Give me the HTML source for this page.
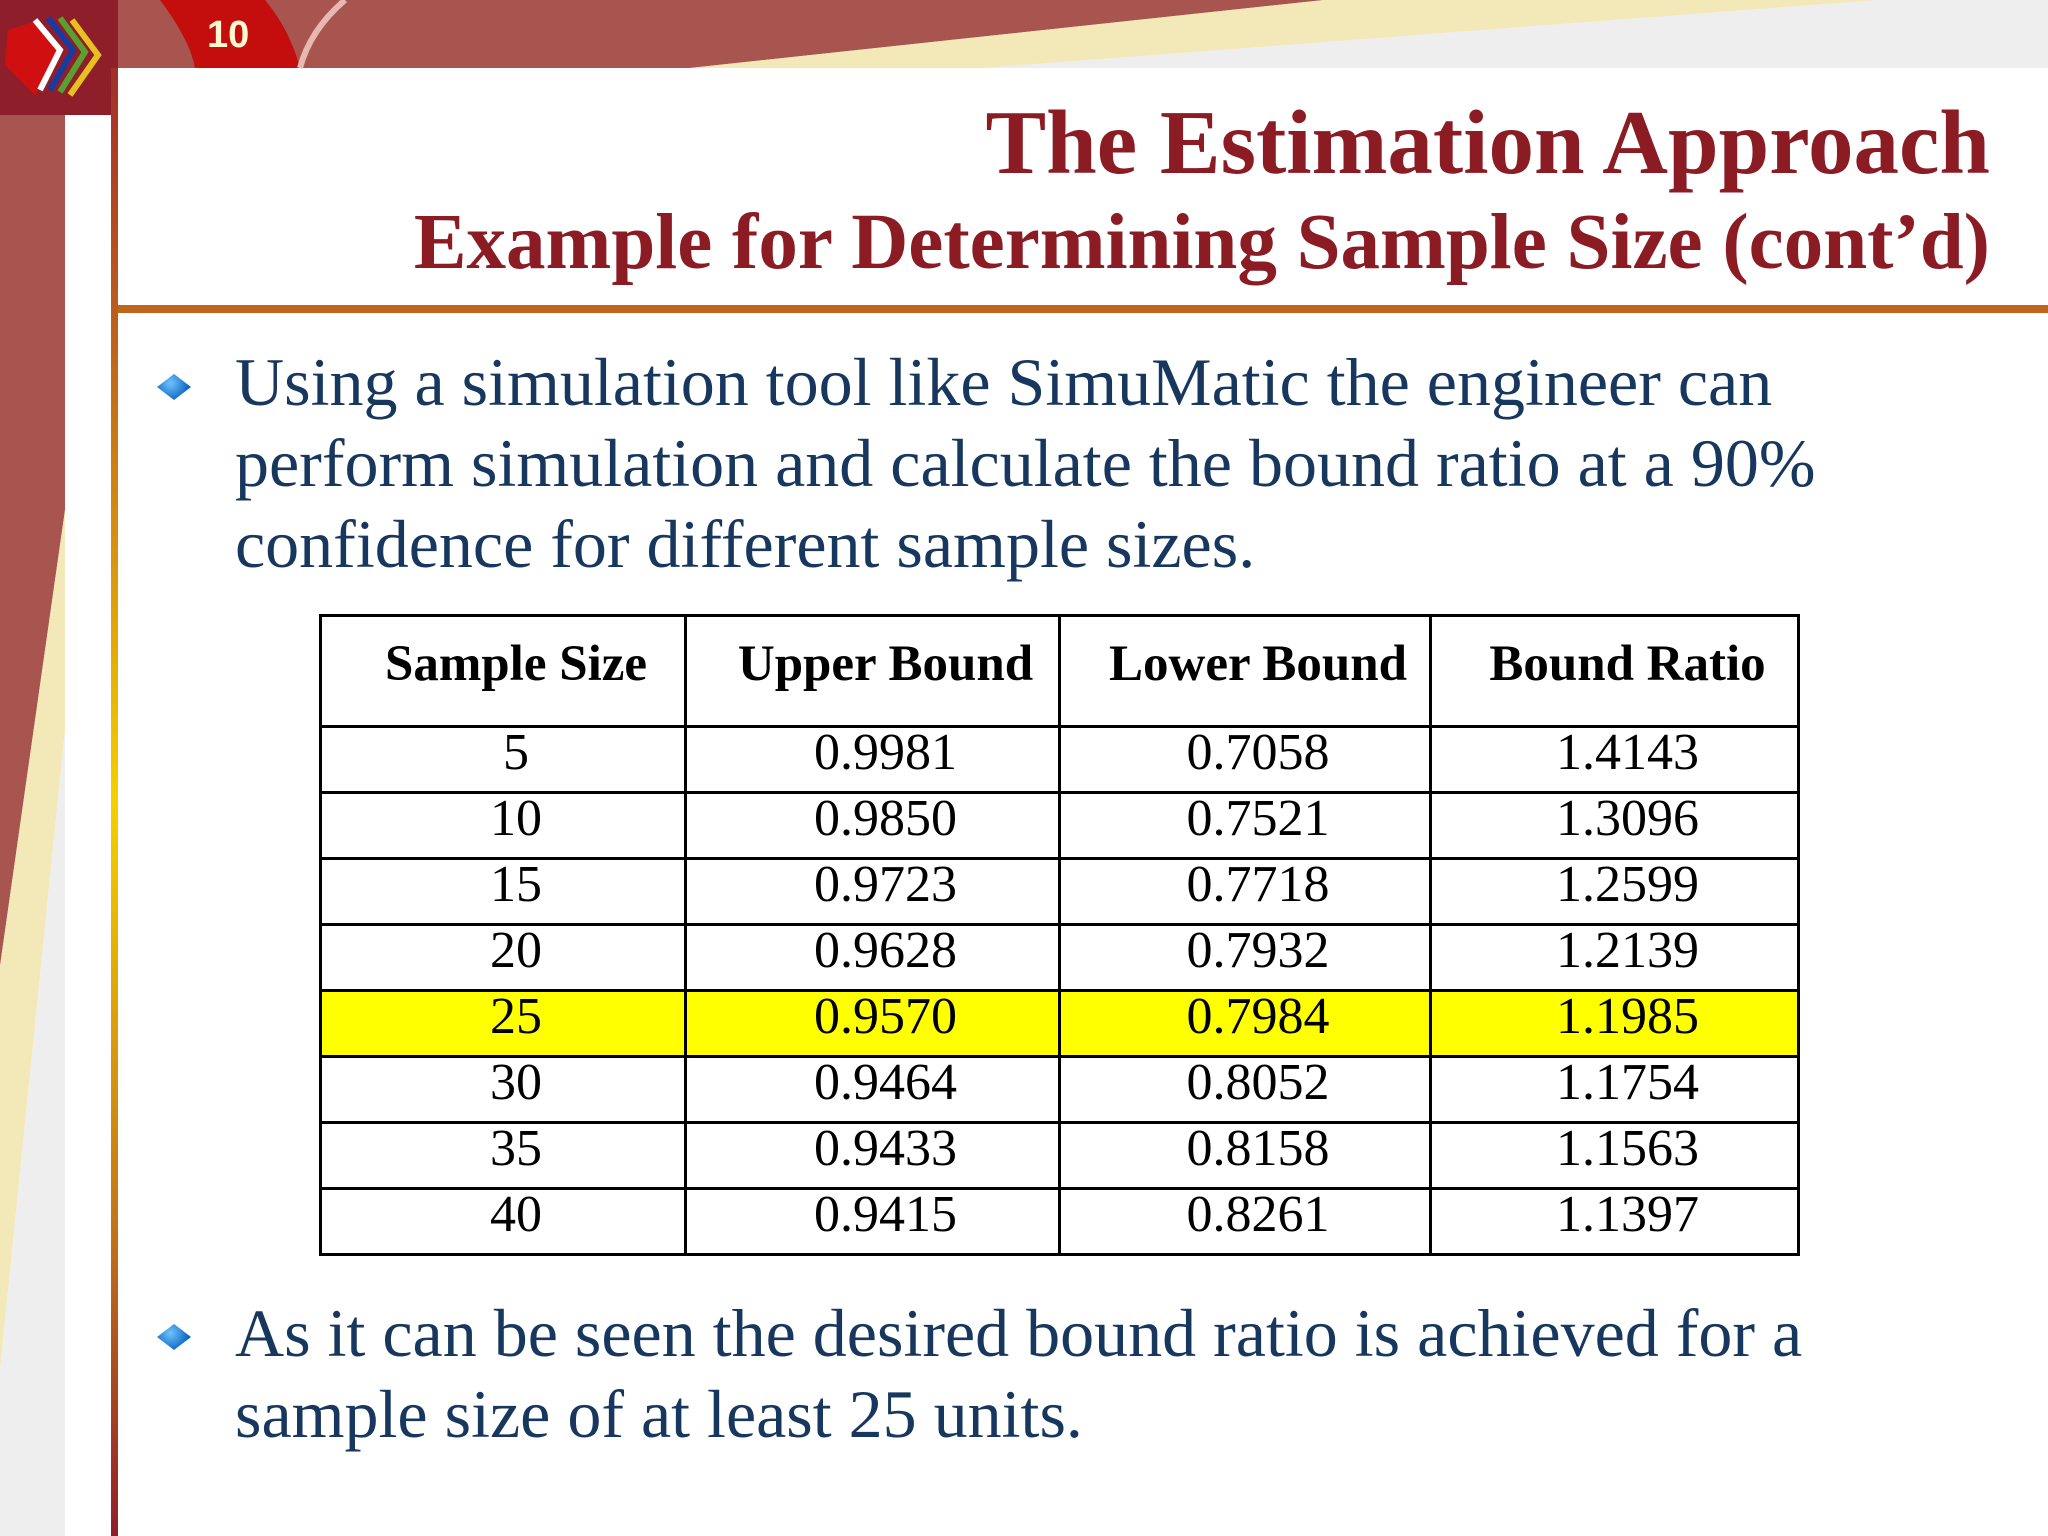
<!DOCTYPE html>
<html><head><meta charset="utf-8"><style>
body{margin:0;width:2048px;height:1536px;position:relative;overflow:hidden;background:#fff;font-family:"Liberation Serif",serif;}
.abs{position:absolute;}
.title{right:58px;color:#8b1c24;font-weight:bold;white-space:nowrap;}
.bt{left:235px;color:#17375e;font-size:68px;line-height:81px;white-space:nowrap;}
.diamond{width:34px;height:26px;background:radial-gradient(circle at 40% 35%,#6fc3ff,#0a64c0 70%);clip-path:polygon(0 50%,50% 0,100% 50%,50% 100%);}
table{position:absolute;left:319px;top:614px;width:1478px;border-collapse:collapse;table-layout:fixed;}
td,th{border:3px solid #000;text-align:center;padding:0 0 0 26px;color:#000;}
th{height:108px;font-size:51px;font-weight:bold;line-height:60px;}
td{height:63px;font-size:52px;line-height:60px;}
td span,th span{position:relative;top:-7px;}
tr.hl td{background:#ffff00;}
</style></head><body>
<svg class="abs" style="left:0;top:0" width="2048" height="1536">
<rect x="0" y="0" width="2048" height="68" fill="#eeeeee"/>
<polygon points="0,0 1324,0 690,68 0,68" fill="#a8554f"/>
<polygon points="1324,0 1876,0 982,68 690,68" fill="#f3e9b8"/>
<path d="M160,0 Q190,40 195,68 L300,68 Q290,30 265,0Z" fill="#c40d0d"/>
<path d="M300,68 Q310,30 345,0" stroke="#e8b8b0" stroke-width="6" fill="none"/>
<rect x="0" y="0" width="118" height="115" fill="#8e1f2a"/>
<polygon points="0,115 65,115 65,510 0,966" fill="#a8554f"/>
<polygon points="65,510 65,730 0,1370 0,966" fill="#f3e9b8"/>
<polygon points="65,730 65,1536 0,1536 0,1370" fill="#eeeeee"/>
<rect x="65" y="115" width="47" height="1421" fill="#fff"/>
<defs><linearGradient id="g" x1="0" y1="0" x2="0" y2="1"><stop offset="0" stop-color="#a0302a"/><stop offset="0.2" stop-color="#c0661a"/><stop offset="0.5" stop-color="#f5d000"/><stop offset="0.8" stop-color="#c07018"/><stop offset="1" stop-color="#8e1f2a"/></linearGradient></defs>
<rect x="111" y="68" width="7" height="1468" fill="url(#g)"/>
<rect x="118" y="305" width="1930" height="8" fill="#c0661a"/>
<polygon points="8,30 40,20 58,55 35,95 5,65" fill="#d01010"/>
<polyline points="35,20 60,50 40,90" stroke="#fff" stroke-width="6" fill="none"/>
<polyline points="48,18 73,50 50,90" stroke="#1a3aa0" stroke-width="6" fill="none"/>
<polyline points="60,18 85,52 60,92" stroke="#5aa030" stroke-width="6" fill="none"/>
<polyline points="72,20 98,55 70,95" stroke="#e8c020" stroke-width="6" fill="none"/>
</svg>
<div class="abs" style="left:207px;top:14px;color:#fff8d0;font-family:'Liberation Sans',sans-serif;font-weight:bold;font-size:38px;">10</div>
<div class="abs title" style="top:90px;font-size:91px;">The Estimation Approach</div>
<div class="abs title" style="top:198px;font-size:79px;">Example for Determining Sample Size (cont’d)</div>
<div class="abs diamond" style="left:157px;top:374px"></div>
<div class="abs bt" style="top:342px">Using a simulation tool like SimuMatic the engineer can<br>perform simulation and calculate the bound ratio at a 90%<br>confidence for different sample sizes.</div>
<table>
<colgroup><col style="width:365px"><col style="width:374px"><col style="width:371px"><col style="width:368px"></colgroup>
<thead><tr><th><span>Sample Size</span></th><th><span>Upper Bound</span></th><th><span>Lower Bound</span></th><th><span>Bound Ratio</span></th></tr></thead>
<tbody id="tb"></tbody></table>
<div class="abs diamond" style="left:157px;top:1324px"></div>
<div class="abs bt" style="top:1293px">As it can be seen the desired bound ratio is achieved for a<br>sample size of at least 25 units.</div>
<script>
const sizes=["5","10","15","20","25","30","35","40"];
const upper=["0.9981","0.9850","0.9723","0.9628","0.9570","0.9464","0.9433","0.9415"];
const lower=["0.7058","0.7521","0.7718","0.7932","0.7984","0.8052","0.8158","0.8261"];
const ratio=["1.4143","1.3096","1.2599","1.2139","1.1985","1.1754","1.1563","1.1397"];
const highlight="25";
const tb=document.getElementById('tb');
sizes.forEach((s,i)=>{
  const tr=document.createElement('tr');
  
  
  if(s===highlight)tr.className='hl';
  [s,upper[i],lower[i],ratio[i]].forEach((v,j)=>{
    const td=document.createElement('td');
    
    
    const sp=document.createElement('span');
    sp.textContent=v;
    td.appendChild(sp);
    tr.appendChild(td);
  });
  tb.appendChild(tr);
});
</script>
</body></html>
